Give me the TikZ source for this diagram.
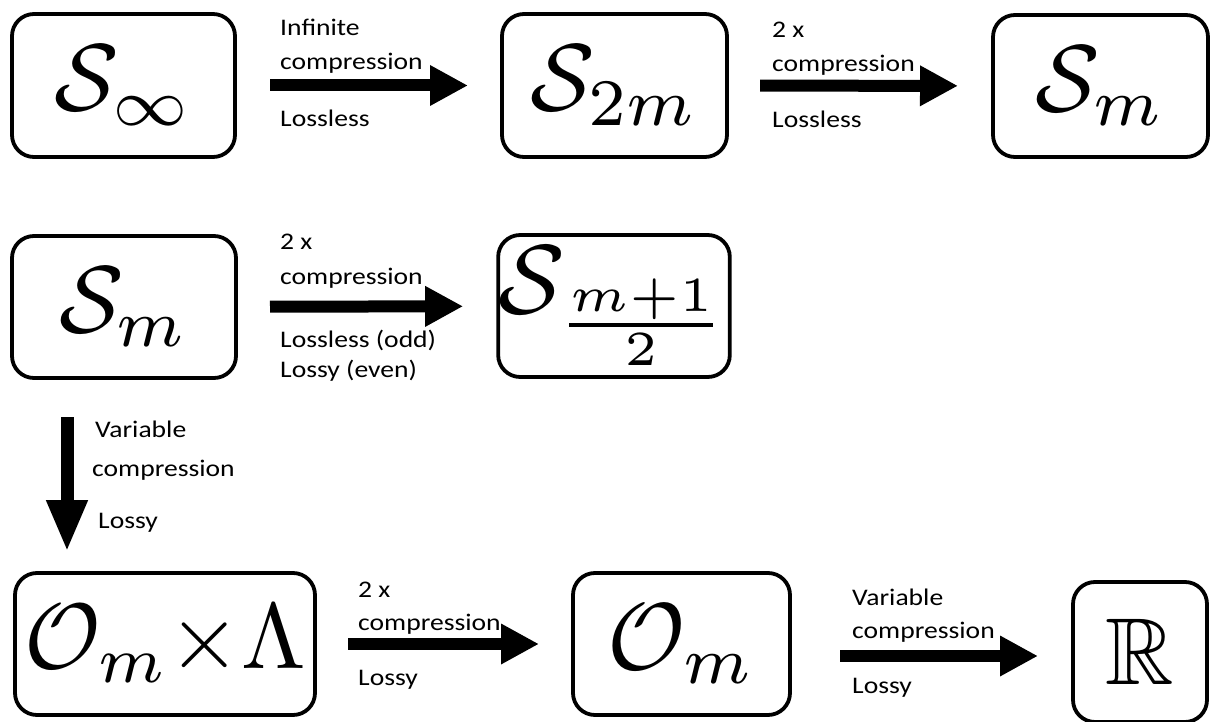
\documentclass[tikz,border=0pt]{standalone}
\usepackage{fontspec}
\setmainfont{Carlito}[FakeStretch=1.16]
\usepackage{amssymb}
\usepackage{graphicx}
\usetikzlibrary{arrows.meta,calc}
\newcommand{\mbx}[2][9.5]{\scalebox{#1}{$#2$}}
\begin{document}
\begin{tikzpicture}[x=1pt,y=-1pt,
  box/.style={draw, line width=3.8pt, rounded corners=22pt, inner sep=0pt, outer sep=0pt},
  lbl/.style={anchor=base west, inner sep=0pt, font=\fontsize{23.8}{28}\selectfont},
  bigarrow/.style={line width=12pt, -{Triangle[length=38pt,width=38pt]}},
  varrow/.style={line width=13pt, -{Triangle[length=52pt,width=38pt]}}]
\useasboundingbox (0,0) rectangle (1211,722);
% boxes
\node[box, minimum width=223pt, minimum height=143pt] (A) at (123.5,85.5) {\mbx{\mathcal{S}_\infty}};
\node[box, minimum width=225pt, minimum height=143pt] (B) at (614.5,85.5) {\mbx{\mathcal{S}_{2m}}};
\node[box, minimum width=215pt, minimum height=142pt] (C) at (1100.5,86) {\mbx{\mathcal{S}_m}};
\node[box, minimum width=224pt, minimum height=142pt] (D) at (124,307) {\mbx{\mathcal{S}_m}};
\node[box, minimum width=222pt, minimum height=142pt] (E) at (614,306) {\mbx[9.8]{\mathcal{S}_{\frac{m+1}{2}}}};
\node[box, minimum width=300pt, minimum height=142pt] (F) at (165,644) {\mbx[9.3]{\mathcal{O}_m{\times}\Lambda}};
\node[box, minimum width=217pt, minimum height=142pt] (G) at (681.5,644) {\mbx{\mathcal{O}_m}};
\node[box, minimum width=134pt, minimum height=140pt] (H) at (1140,652) {\mbx{\mathbb{R}}};
% arrows
\draw[bigarrow, shorten <=35pt, shorten >=34pt] (A) -- (B);
\draw[bigarrow, shorten <=33pt, shorten >=35pt] (B) -- (C);
\draw[bigarrow, shorten <=34pt, shorten >=35pt] (D) -- (E);
\coordinate (vx) at (67,0);
\draw[varrow, shorten <=39pt, shorten >=21pt] (vx |- D.south) -- (vx |- F.north);
\draw[bigarrow, shorten <=33pt, shorten >=34pt] (F) -- (G);
\draw[bigarrow, shorten <=50pt, shorten >=35pt] ([yshift=-12pt]G.east) -- ([yshift=-12pt]G.east -| H.west);
% labels
\node[lbl] (l1a) at (280,36) {Infinite};
\node[lbl] (l1b) at (280,70) {compression};
\node[lbl] (l1c) at (280,127) {Lossless};
\node[lbl] (l2a) at (772,38) {2 x};
\node[lbl] (l2b) at (772,72) {compression};
\node[lbl] (l2c) at (772,128) {Lossless};
\node[lbl] (l3a) at (280,250) {2 x};
\node[lbl] (l3b) at (280,285) {compression};
\node[lbl] (l3c) at (280,347) {Lossless (odd)};
\node[lbl] (l3d) at (280,377) {Lossy (even)};
\node[lbl] (l4a) at (95,437) {Variable};
\node[lbl] (l4b) at (92,476) {compression};
\node[lbl] (l4c) at (98,528) {Lossy};
\node[lbl] (l5a) at (358,597) {2 x};
\node[lbl] (l5b) at (358,630) {compression};
\node[lbl] (l5c) at (358,685) {Lossy};
\node[lbl] (l6a) at (852,605) {Variable};
\node[lbl] (l6b) at (852,638) {compression};
\node[lbl] (l6c) at (852,693) {Lossy};
\end{tikzpicture}
\end{document}
